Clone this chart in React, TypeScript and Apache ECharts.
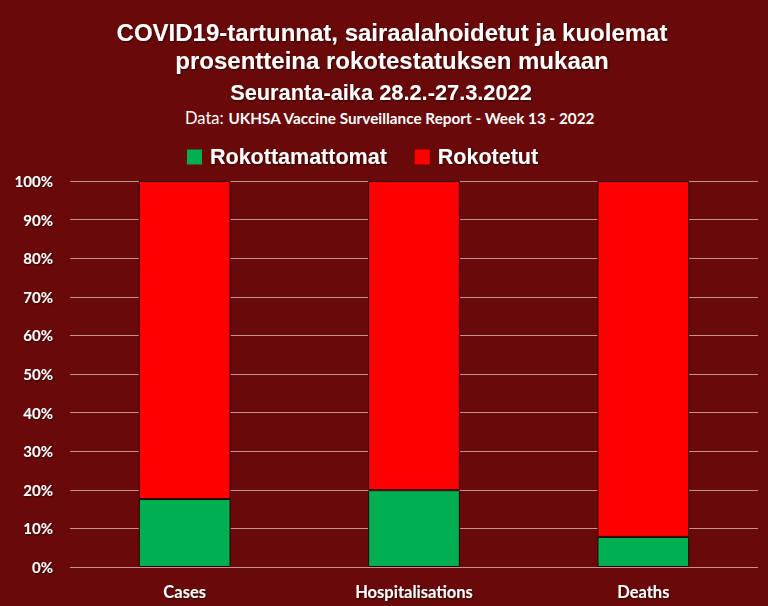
import React, { useEffect, useRef } from "react";
import * as echarts from "echarts";

const categories = ["Cases", "Hospitalisations", "Deaths"];
const unvaccinated = [17.6, 19.9, 7.8];
const vaccinated = [82.4, 80.1, 92.2];
const seriesNames = ["Rokottamattomat", "Rokotetut"];
const titleLines = [
  "COVID19-tartunnat, sairaalahoidetut ja kuolemat",
  "prosentteina rokotestatuksen mukaan",
];
const subTitle = "Seuranta-aika 28.2.-27.3.2022";
const dataPrefix = "Data: ";
const dataSource = "UKHSA Vaccine Surveillance Report - Week 13 - 2022";

const BG = "#6a0909";

export default function App() {
  const ref = useRef<HTMLDivElement>(null);
  useEffect(() => {
    if (!ref.current) return;
    const chart = echarts.init(ref.current, undefined, { renderer: "svg" });
    const shadow = { textShadowColor: "rgba(0,0,0,0.6)", textShadowBlur: 2, textShadowOffsetX: 1, textShadowOffsetY: 1 };
    chart.setOption({
      animation: false,
      backgroundColor: BG,
      graphic: [
        {
          type: "text",
          x: 392,
          y: 46,
          style: {
            text: titleLines.join("\n"),
            align: "center",
            verticalAlign: "middle",
            fill: "#fff",
            font: "bold 24px 'Liberation Sans', Arial",
            lineHeight: 28,
            ...shadow,
          },
        },
        {
          type: "text",
          x: 381,
          y: 92,
          style: {
            text: subTitle,
            align: "center",
            verticalAlign: "middle",
            fill: "#fff",
            font: "bold 21.8px 'Liberation Sans', Arial",
            ...shadow,
          },
        },
        {
          type: "text",
          x: 390,
          y: 118,
          style: {
            text: "{a|" + dataPrefix + "}{b|" + dataSource + "}",
            align: "center",
            verticalAlign: "middle",
            rich: {
              a: { fill: "#fff", color: "#fff", fontFamily: "Lato", fontSize: 16.5 },
              b: { fill: "#fff", color: "#fff", fontFamily: "Lato", fontWeight: "bold", fontSize: 15.3 },
            },
          },
        },
      ],
      legend: {
        top: 141,
        left: 182,
        itemWidth: 15,
        itemHeight: 15,
        itemGap: 28,
        icon: "rect",
        itemStyle: { borderWidth: 0 },
        textStyle: { color: "#fff", fontFamily: "Liberation Sans, Arial", fontWeight: "bold", fontSize: 21.5, padding: [0, 0, 0, 3], ...shadow },
        data: seriesNames,
      },
      grid: { left: 70, right: 10, top: 181, bottom: 39 },
      xAxis: {
        type: "category",
        data: categories,
        axisLine: { show: false },
        axisTick: { show: false },
        axisLabel: { color: "#fff", fontFamily: "Lato", fontWeight: "bold", fontSize: 16.5, margin: 16, ...shadow },
      },
      yAxis: {
        type: "value",
        min: 0,
        max: 100,
        interval: 10,
        axisLine: { show: false },
        axisTick: { show: false },
        axisLabel: { color: "#fff", fontFamily: "Lato", fontWeight: "bold", fontSize: 15, margin: 17, formatter: "{value}%", ...shadow },
        splitLine: { lineStyle: { color: "#c89090", width: 1 } },
      },
      series: [
        {
          name: seriesNames[0],
          type: "bar",
          stack: "t",
          barWidth: "40%",
          data: unvaccinated,
          itemStyle: { color: "#00b050", borderColor: "#2a0000", borderWidth: 1 },
        },
        {
          name: seriesNames[1],
          type: "bar",
          stack: "t",
          barWidth: "40%",
          data: vaccinated,
          itemStyle: { color: "#ff0000", borderColor: "#2a0000", borderWidth: 1 },
        },
      ],
    });
    return () => chart.dispose();
  }, []);
  return <div ref={ref} style={{ width: 768, height: 606, position: "absolute", left: 0, top: 0 }} />;
}
